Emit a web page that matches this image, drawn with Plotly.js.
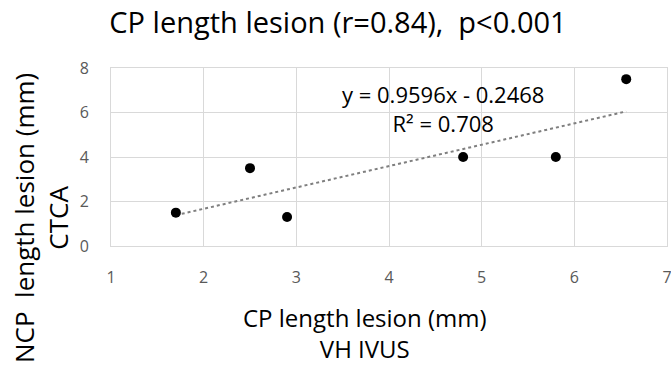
<!DOCTYPE html>
<html><head><meta charset="utf-8">
<script src="https://cdn.plot.ly/plotly-3.0.1.min.js"></script>
<style>html,body{margin:0;padding:0;background:#fff;overflow:hidden}#chart{width:671px;height:366px}</style>
</head><body><div id="chart"></div>
<script>
const cpLength = [1.7, 2.5, 2.9, 4.8, 5.8, 6.56];
const ncpLength = [1.5, 3.5, 1.3, 4.0, 4.0, 7.5];
const fitSlope = 0.9596;
const fitIntercept = -0.2468;
const rSquared = 0.708;
const xTicks = [1, 2, 3, 4, 5, 6, 7];
const yTicks = [0, 2, 4, 6, 8];

const xMin = Math.min(...cpLength), xMax = Math.max(...cpLength);
const trendX = [xMin, xMax];
const trendY = trendX.map(v => fitSlope * v + fitIntercept);

const FONT = 'Open Sans, Noto Sans, sans-serif';
const PL = 111, PR = 667, PT = 68, PB = 246;
const px = v => (v - PL) / (PR - PL);
const py = v => (PB - v) / (PB - PT);

const data = [
  {x: trendX, y: trendY, mode: 'lines', type: 'scatter',
   line: {color: '#7f7f7f', width: 2, dash: 'dot'}, hoverinfo: 'skip'},
  {x: cpLength, y: ncpLength, mode: 'markers', type: 'scatter',
   marker: {color: '#000000', size: 10}}
];

const axisCommon = {showgrid: true, gridcolor: '#d9d9d9', gridwidth: 1,
  zeroline: false, showline: true, linecolor: '#d9d9d9', linewidth: 1, mirror: true,
  ticks: '', ticklen: 0, tickfont: {family: FONT, size: 16, color: '#595959'},
  ticklabeloverflow: 'allow'};

const layout = {
  width: 671, height: 366,
  margin: {l: PL, r: 671 - PR, t: PT, b: 366 - PB},
  paper_bgcolor: '#ffffff', plot_bgcolor: '#ffffff',
  showlegend: false,
  font: {family: FONT, color: '#595959'},
  title: {text: 'CP length lesion (r=0.84),\u00A0 p<0.001', font: {family: FONT, size: 29, color: '#000000'},
          xref: 'container', x: 338 / 671, xanchor: 'center', yref: 'container', y: 1 - 23 / 366, yanchor: 'middle'},
  xaxis: Object.assign({range: [1, 7], tickvals: xTicks, ticklabelstandoff: 17}, axisCommon),
  yaxis: Object.assign({range: [0, 8], tickvals: yTicks, ticklabelstandoff: 18}, axisCommon),
  annotations: [
    {text: 'y = ' + fitSlope + 'x - ' + Math.abs(fitIntercept) + '<br>R\u00B2 = ' + rSquared,
     xref: 'paper', yref: 'paper', x: px(443), y: py(108),
     xanchor: 'center', yanchor: 'middle', showarrow: false, align: 'center',
     font: {family: FONT, size: 22, color: '#000000'}},
    {text: 'CP length lesion (mm)<br>VH IVUS', xref: 'paper', yref: 'paper',
     x: px(365), y: py(333), xanchor: 'center', yanchor: 'middle',
     showarrow: false, align: 'center', font: {family: FONT, size: 24, color: '#000000'}},
    {text: 'NCP\u00A0 length lesion (mm)<br>CTCA', xref: 'paper', yref: 'paper',
     x: px(41), y: py(218), xanchor: 'center', yanchor: 'middle',
     textangle: -90, showarrow: false, align: 'center', font: {family: FONT, size: 26, color: '#000000'}}
  ]
};

Plotly.newPlot('chart', data, layout, {displayModeBar: false, staticPlot: true});
</script></body></html>
